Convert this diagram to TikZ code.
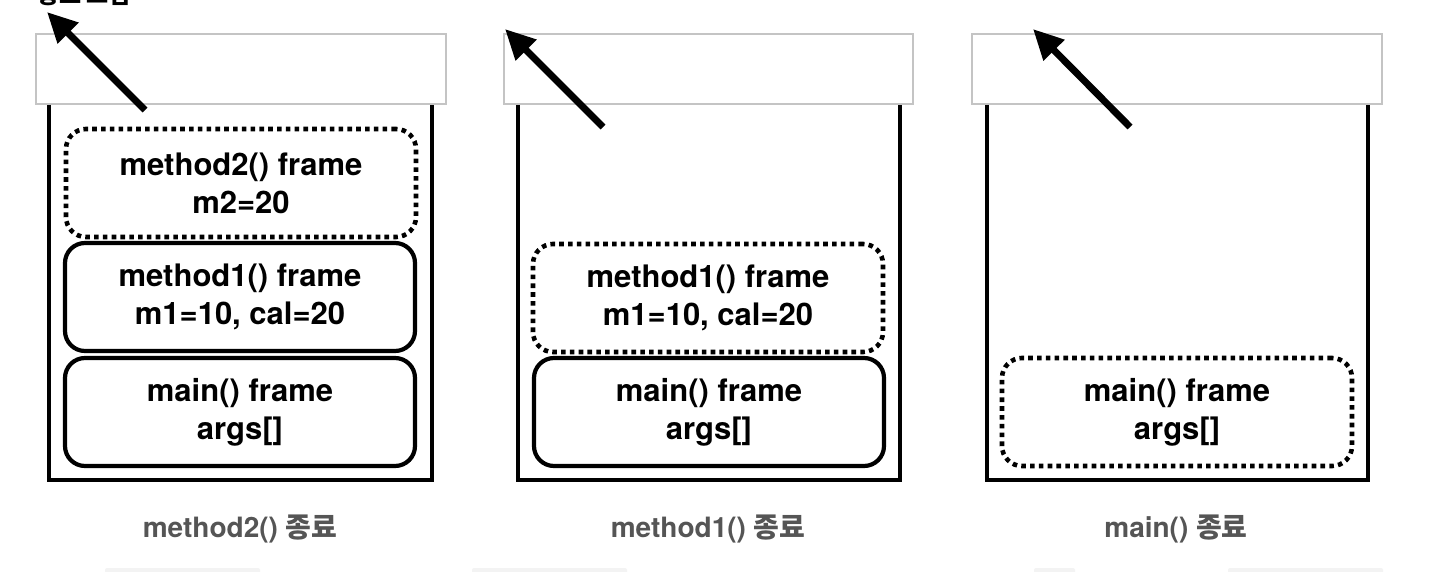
\documentclass[tikz,border=0pt]{standalone}
\usepackage{fontspec}
\setmainfont{TeX Gyre Heros}
\newfontfamily\kr{Noto Sans CJK KR}
\usetikzlibrary{arrows.meta}
\definecolor{lidgray}{HTML}{C4C4C4}
\definecolor{capgray}{HTML}{555555}
\definecolor{faint}{HTML}{F3F3F3}
\tikzset{
  lid/.style={draw=lidgray, line width=1.3pt, fill=white},
  wall/.style={line width=4.5pt, line join=miter},
  frm/.style={draw, rounded corners=20pt, line width=4.2pt, minimum width=350pt,
    minimum height=108pt, align=center, inner sep=0pt,
    font=\bfseries\fontsize{31}{38}\selectfont},
  popped/.style={frm, line width=4.6pt, dash pattern=on 4.6pt off 4.2pt},
  caption/.style={anchor=base, text=capgray, font=\bfseries\fontsize{28}{32}\selectfont},
  pop/.style={line width=7pt, -{Triangle[length=30pt,width=28pt]}},
  ghost/.style={fill=faint, draw=none, rounded corners=2pt},
}
\begin{document}
\begin{tikzpicture}[x=1pt,y=-1pt]
\useasboundingbox (0,0) rectangle (1450,572);
\clip (0,0) rectangle (1450,572);
\fill[white] (0,0) rectangle (1450,572);

% cut-off heading at the top left (the reference shows only its lower edge)
\node[anchor=base west, inner sep=0pt, font=\kr\bfseries\fontsize{24}{28}\selectfont] (head) at (37,4) {종료 그림};

% faint shapes at the bottom edge
\fill[ghost] (105,568) rectangle (260,580);
\fill[ghost] (472,568) rectangle (627,580);
\fill[ghost] (1034,568) rectangle (1075,580);
\fill[ghost] (1228,568) rectangle (1383,580);

% ---------- panel 1 ----------
\draw[lid] (36,34) rectangle (446,104);
\draw[wall] (49,105) -- (49,480) -- (432,480) -- (432,105);
\node[popped] (p1m2) at (241,183) {method2() frame\\m2=20};
\node[frm] (p1m1) at (240,297) {method1() frame\\m1=10, cal=20};
\node[frm] (p1main) at (240,412) {main() frame\\args[]};
\coordinate (t1) at (145,110);
\coordinate (h1) at (47,12);
\draw[pop] (t1) -- (h1);
\node[caption] (c1) at (240,537) {method2() {\kr\bfseries 종료}};

% ---------- panel 2 ----------
\draw[lid] (504,34) rectangle (913,104);
\draw[wall] (518,105) -- (518,480) -- (900,480) -- (900,105);
\node[popped] (p2m1) at (708,298) {method1() frame\\m1=10, cal=20};
\node[frm] (p2main) at (709,412) {main() frame\\args[]};
\coordinate (t2) at (603,127);
\coordinate (h2) at (505,29);
\draw[pop] (t2) -- (h2);
\node[caption] (c2) at (708,537) {method1() {\kr\bfseries 종료}};

% ---------- panel 3 ----------
\draw[lid] (972,34) rectangle (1382,104);
\draw[wall] (987,105) -- (987,480) -- (1368,480) -- (1368,105);
\node[popped] (p3main) at (1177,412) {main() frame\\args[]};
\coordinate (t3) at (1130,127);
\coordinate (h3) at (1033,29);
\draw[pop] (t3) -- (h3);
\node[caption] (c3) at (1176,537) {main() {\kr\bfseries 종료}};
\end{tikzpicture}
\end{document}
